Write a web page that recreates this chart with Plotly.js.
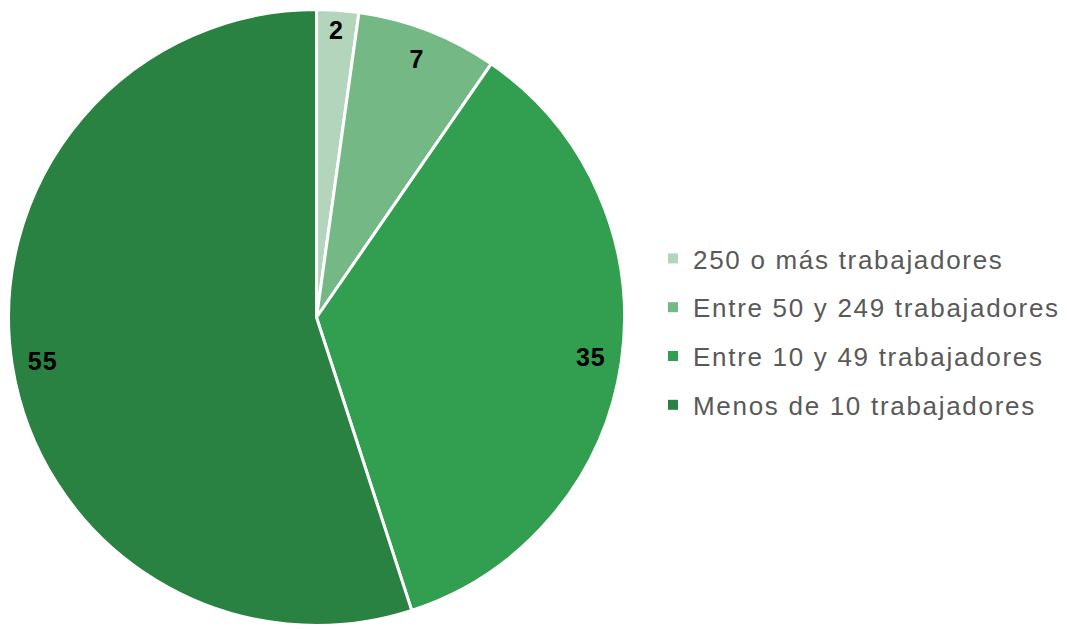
<!DOCTYPE html>
<html>
<head>
<meta charset="utf-8">
<script src="https://cdn.plot.ly/plotly-3.0.1.min.js"></script>
<style>
html,body{margin:0;padding:0;background:#fff;}
#chart{width:1067px;height:630px;}
.legendtext{letter-spacing:1.7px;}
.slicetext{letter-spacing:1px;}
</style>
</head>
<body>
<div id="chart"></div>
<script>
const categories = ["250 o más trabajadores", "Entre 50 y 249 trabajadores", "Entre 10 y 49 trabajadores", "Menos de 10 trabajadores"];
const values = [2.2, 7.4, 35.4, 55.0];
const colors = ["#b3d5bb", "#74b985", "#319e50", "#2a8242"];

const pieDomain = {x: [0.008, 0.5853], y: [0.0071, 0.985]};

const pie = {
  type: "pie",
  labels: categories,
  values: values,
  sort: false,
  direction: "clockwise",
  rotation: 0,
  marker: {colors: colors, line: {color: "#ffffff", width: 3}},
  textinfo: "none",
  domain: pieDomain,
  showlegend: false,
  hoverinfo: "label+value"
};

// transparent ring carrying the data labels near the outer edge
const labelRing = {
  type: "pie",
  labels: categories,
  values: values,
  sort: false,
  direction: "clockwise",
  rotation: 0,
  hole: 0.8,
  marker: {colors: categories.map(() => "rgba(0,0,0,0)"), line: {width: 0}},
  texttemplate: "%{value:.0f}",
  textposition: "inside",
  insidetextorientation: "horizontal",
  textfont: {family: "Liberation Sans, Arial, sans-serif", size: 25, color: "#000000", weight: "bold"},
  domain: pieDomain,
  showlegend: false,
  hoverinfo: "skip"
};

const legendTraces = categories.map((c, i) => ({
  type: "scatter",
  mode: "markers",
  x: [null], y: [null],
  name: c,
  legendgroup: "g" + i,
  marker: {symbol: "square", size: 10, color: colors[i]},
  showlegend: true,
  hoverinfo: "skip"
}));

const layout = {
  width: 1067, height: 630,
  margin: {l: 0, r: 0, t: 0, b: 0},
  paper_bgcolor: "#ffffff",
  plot_bgcolor: "rgba(0,0,0,0)",
  xaxis: {visible: false, domain: [0.7, 0.71]},
  yaxis: {visible: false, domain: [0.5, 0.51]},
  showlegend: true,
  legend: {
    x: 0.612, y: 0.473, xanchor: "left", yanchor: "middle",
    font: {family: "Liberation Sans, Arial, sans-serif", size: 26, color: "#595959"},
    traceorder: "grouped",
    tracegroupgap: 12,
    bgcolor: "rgba(0,0,0,0)"
  }
};

Plotly.newPlot("chart", [pie, labelRing].concat(legendTraces), layout, {displayModeBar: false, staticPlot: true});
</script>
</body>
</html>
